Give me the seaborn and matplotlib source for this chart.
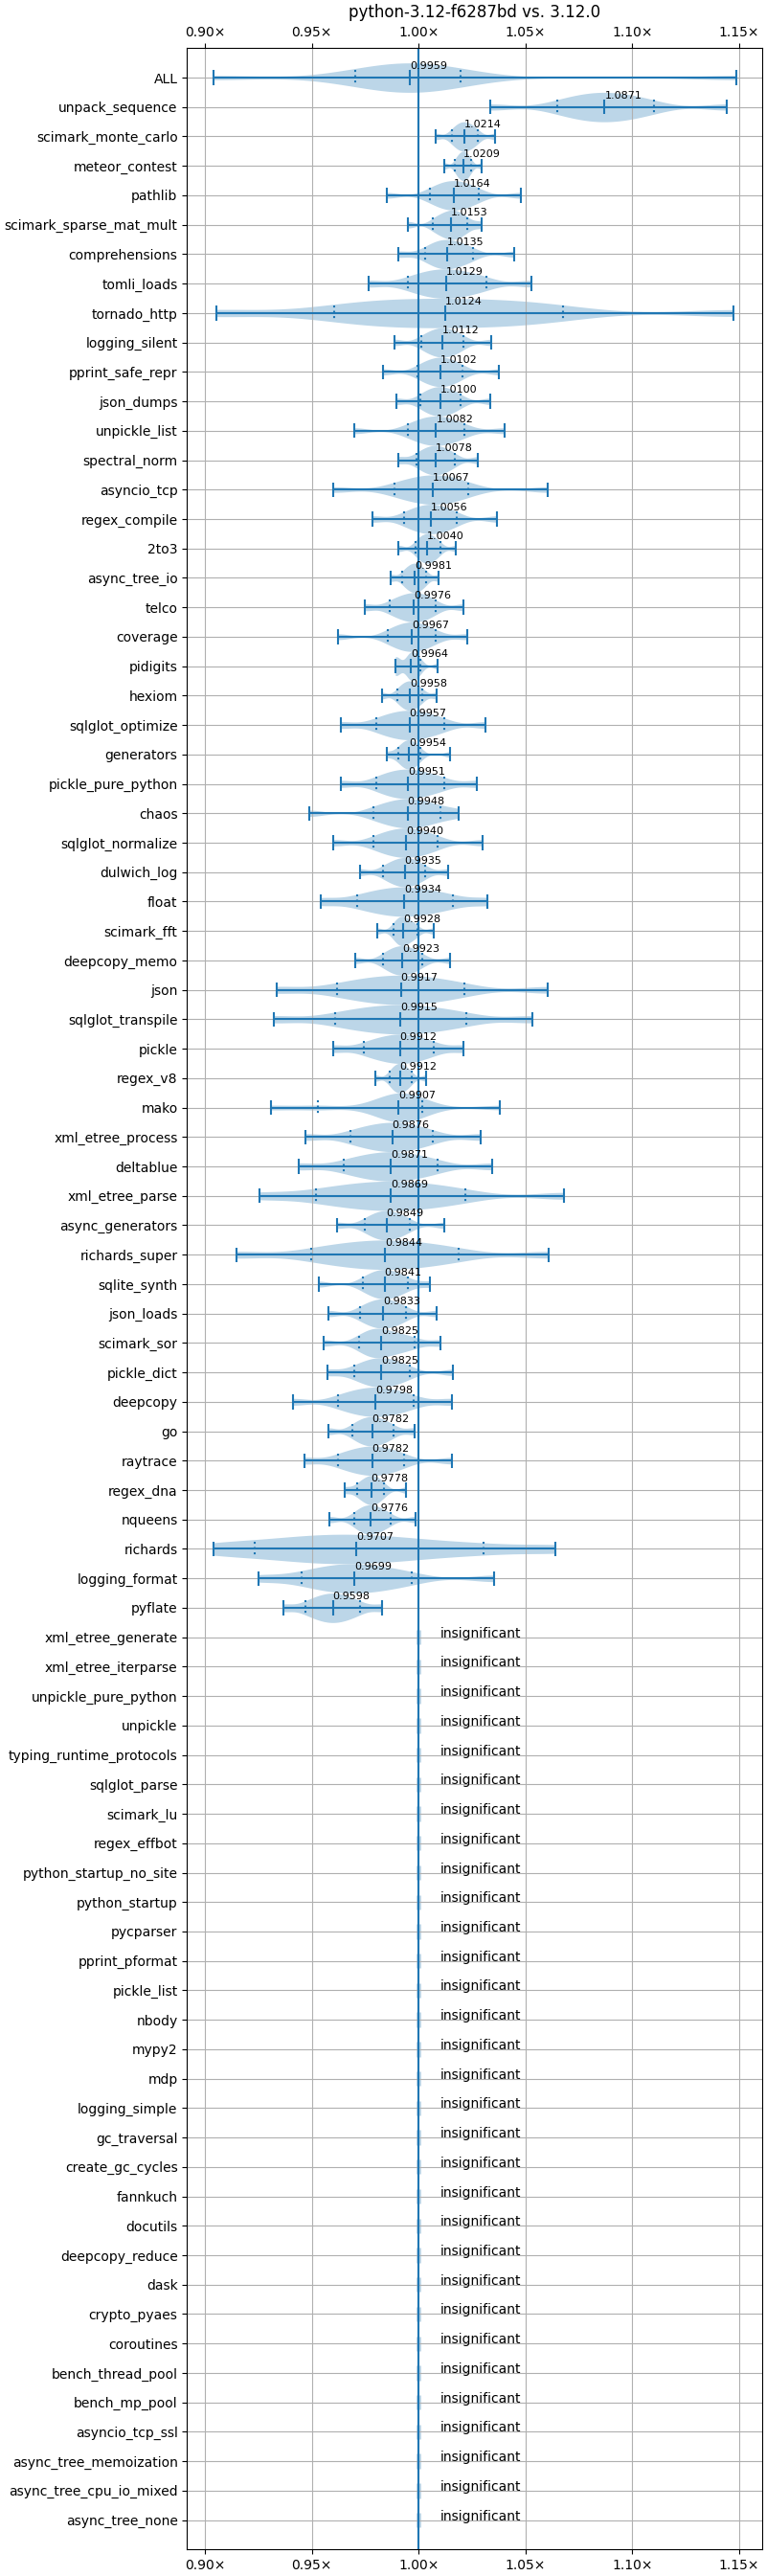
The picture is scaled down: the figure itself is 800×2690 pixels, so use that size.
import numpy as np
import pandas as pd
import matplotlib
matplotlib.use("Agg")
import matplotlib.pyplot as plt
from matplotlib.ticker import FuncFormatter, MultipleLocator
import seaborn as sns

title = "python-3.12-f6287bd vs. 3.12.0"

significant = [
    "ALL", "unpack_sequence", "scimark_monte_carlo", "meteor_contest", "pathlib",
    "scimark_sparse_mat_mult", "comprehensions", "tomli_loads", "tornado_http",
    "logging_silent", "pprint_safe_repr", "json_dumps", "unpickle_list",
    "spectral_norm", "asyncio_tcp", "regex_compile", "2to3", "async_tree_io",
    "telco", "coverage", "pidigits", "hexiom", "sqlglot_optimize", "generators",
    "pickle_pure_python", "chaos", "sqlglot_normalize", "dulwich_log", "float",
    "scimark_fft", "deepcopy_memo", "json", "sqlglot_transpile", "pickle",
    "regex_v8", "mako", "xml_etree_process", "deltablue", "xml_etree_parse",
    "async_generators", "richards_super", "sqlite_synth", "json_loads",
    "scimark_sor", "pickle_dict", "deepcopy", "go", "raytrace", "regex_dna",
    "nqueens", "richards", "logging_format", "pyflate",
]

insignificant = [
    "xml_etree_generate", "xml_etree_iterparse", "unpickle_pure_python", "unpickle",
    "typing_runtime_protocols", "sqlglot_parse", "scimark_lu", "regex_effbot",
    "python_startup_no_site", "python_startup", "pycparser", "pprint_pformat",
    "pickle_list", "nbody", "mypy2", "mdp", "logging_simple", "gc_traversal",
    "create_gc_cycles", "fannkuch", "docutils", "deepcopy_reduce", "dask",
    "crypto_pyaes", "coroutines", "bench_thread_pool", "bench_mp_pool",
    "asyncio_tcp_ssl", "async_tree_memoization", "async_tree_cpu_io_mixed",
    "async_tree_none",
]

# deciles of each significant benchmark's ratio distribution (min .. max)
q00 = [0.9038, 1.0337, 1.0078, 1.0121, 0.9849, 0.9951, 0.9906, 0.9764, 0.9053,
       0.9885, 0.9835, 0.9894, 0.9700, 0.9906, 0.9602, 0.9785, 0.9906, 0.9870,
       0.9750, 0.9624, 0.9891, 0.9827, 0.9635, 0.9849, 0.9635, 0.9487, 0.9602,
       0.9724, 0.9544, 0.9805, 0.9702, 0.9334, 0.9322, 0.9602, 0.9796, 0.9308,
       0.9469, 0.9438, 0.9253, 0.9617, 0.9146, 0.9532, 0.9577, 0.9554, 0.9572,
       0.9414, 0.9577, 0.9465, 0.9653, 0.9584, 0.9038, 0.9249, 0.9369]
q10 = [0.9705, 1.0650, 1.0154, 1.0171, 1.0051, 1.0067, 1.0031, 0.9951, 0.9603,
       1.0013, 0.9996, 1.0006, 0.9951, 0.9988, 0.9885, 0.9930, 0.9984, 0.9925,
       0.9863, 0.9854, 0.9893, 0.9899, 0.9800, 0.9903, 0.9800, 0.9787, 0.9790,
       0.9835, 0.9714, 0.9881, 0.9832, 0.9620, 0.9608, 0.9745, 0.9863, 0.9530,
       0.9679, 0.9651, 0.9518, 0.9747, 0.9499, 0.9738, 0.9724, 0.9720, 0.9697,
       0.9621, 0.9688, 0.9621, 0.9711, 0.9697, 0.9231, 0.9454, 0.9472]
q20 = [0.9791, 1.0725, 1.0174, 1.0184, 1.0089, 1.0096, 1.0066, 1.0012, 0.9750,
       1.0047, 1.0032, 1.0038, 0.9996, 1.0019, 0.9947, 0.9973, 1.0003, 0.9944,
       0.9901, 0.9892, 0.9897, 0.9919, 0.9853, 0.9920, 0.9851, 0.9842, 0.9841,
       0.9869, 0.9789, 0.9897, 0.9863, 0.9721, 0.9712, 0.9802, 0.9880, 0.9800,
       0.9746, 0.9726, 0.9637, 0.9782, 0.9616, 0.9773, 0.9761, 0.9756, 0.9741,
       0.9681, 0.9720, 0.9676, 0.9734, 0.9724, 0.9400, 0.9537, 0.9515]
q30 = [0.9855, 1.0780, 1.0189, 1.0193, 1.0118, 1.0118, 1.0092, 1.0056, 0.9880,
       1.0071, 1.0059, 1.0061, 1.0028, 1.0041, 0.9992, 1.0004, 1.0017, 0.9958,
       0.9930, 0.9921, 0.9945, 0.9934, 0.9893, 0.9933, 0.9889, 0.9882, 0.9879,
       0.9894, 0.9844, 0.9909, 0.9886, 0.9795, 0.9789, 0.9844, 0.9892, 0.9860,
       0.9795, 0.9781, 0.9725, 0.9807, 0.9703, 0.9799, 0.9788, 0.9782, 0.9773,
       0.9725, 0.9743, 0.9716, 0.9751, 0.9744, 0.9500, 0.9599, 0.9546]
q40 = [0.9908, 1.0827, 1.0202, 1.0201, 1.0141, 1.0136, 1.0114, 1.0093, 1.0000,
       1.0092, 1.0081, 1.0081, 1.0056, 1.0060, 1.0031, 1.0031, 1.0029, 0.9970,
       0.9953, 0.9944, 0.9958, 0.9946, 0.9926, 0.9944, 0.9921, 0.9916, 0.9910,
       0.9915, 0.9890, 0.9919, 0.9905, 0.9858, 0.9854, 0.9879, 0.9902, 0.9890,
       0.9837, 0.9827, 0.9799, 0.9829, 0.9775, 0.9820, 0.9811, 0.9804, 0.9799,
       0.9763, 0.9763, 0.9750, 0.9765, 0.9760, 0.9610, 0.9650, 0.9573]
q50 = [0.9959, 1.0871, 1.0214, 1.0209, 1.0164, 1.0153, 1.0135, 1.0129, 1.0124,
       1.0112, 1.0102, 1.0100, 1.0082, 1.0078, 1.0067, 1.0056, 1.0040, 0.9981,
       0.9976, 0.9967, 0.9964, 0.9958, 0.9957, 0.9954, 0.9951, 0.9948, 0.9940,
       0.9935, 0.9934, 0.9928, 0.9923, 0.9917, 0.9915, 0.9912, 0.9912, 0.9907,
       0.9876, 0.9871, 0.9869, 0.9849, 0.9844, 0.9841, 0.9833, 0.9825, 0.9825,
       0.9798, 0.9782, 0.9782, 0.9778, 0.9776, 0.9707, 0.9699, 0.9598]
q60 = [1.0007, 1.0917, 1.0227, 1.0216, 1.0188, 1.0168, 1.0159, 1.0167, 1.0250,
       1.0132, 1.0123, 1.0120, 1.0109, 1.0097, 1.0100, 1.0081, 1.0052, 0.9992,
       0.9997, 0.9990, 0.9972, 0.9970, 0.9990, 0.9965, 0.9984, 0.9978, 0.9970,
       0.9954, 0.9980, 0.9941, 0.9942, 0.9977, 0.9977, 0.9944, 0.9923, 0.9925,
       0.9914, 0.9915, 0.9939, 0.9871, 0.9913, 0.9862, 0.9855, 0.9856, 0.9851,
       0.9833, 0.9802, 0.9812, 0.9790, 0.9794, 0.9810, 0.9752, 0.9623]
q70 = [1.0057, 1.0965, 1.0241, 1.0224, 1.0213, 1.0184, 1.0184, 1.0206, 1.0380,
       1.0152, 1.0145, 1.0140, 1.0137, 1.0116, 1.0135, 1.0107, 1.0065, 1.0004,
       1.0019, 1.0013, 0.9983, 0.9983, 1.0024, 0.9976, 1.0019, 1.0010, 1.0002,
       0.9974, 1.0027, 0.9955, 0.9962, 1.0040, 1.0042, 0.9978, 0.9934, 0.9945,
       0.9954, 0.9961, 1.0013, 0.9893, 0.9985, 0.9885, 0.9878, 0.9888, 0.9879,
       0.9871, 0.9823, 0.9844, 0.9803, 0.9813, 0.9930, 0.9808, 0.9650]
q80 = [1.0116, 1.1022, 1.0257, 1.0233, 1.0243, 1.0203, 1.0214, 1.0254, 1.0510,
       1.0177, 1.0171, 1.0165, 1.0170, 1.0139, 1.0177, 1.0138, 1.0080, 1.0018,
       1.0045, 1.0042, 0.9995, 0.9998, 1.0065, 0.9989, 1.0061, 1.0048, 1.0040,
       0.9998, 1.0084, 0.9971, 0.9986, 1.0114, 1.0120, 1.0018, 0.9948, 0.9975,
       1.0002, 1.0016, 1.0100, 0.9920, 1.0072, 0.9912, 0.9906, 0.9927, 0.9912,
       0.9915, 0.9847, 0.9882, 0.9819, 0.9836, 1.0080, 0.9875, 0.9681]
q90 = [1.0197, 1.1100, 1.0279, 1.0246, 1.0283, 1.0228, 1.0255, 1.0318, 1.0675,
       1.0210, 1.0206, 1.0198, 1.0216, 1.0171, 1.0234, 1.0180, 1.0100, 1.0037,
       1.0080, 1.0080, 1.0010, 1.0019, 1.0121, 1.0007, 1.0118, 1.0100, 1.0091,
       1.0031, 1.0162, 0.9993, 1.0018, 1.0216, 1.0225, 1.0072, 0.9966, 1.0018,
       1.0067, 1.0091, 1.0219, 0.9957, 1.0189, 0.9948, 0.9943, 0.9979, 0.9957,
       0.9975, 0.9881, 0.9934, 0.9840, 0.9867, 1.0306, 0.9966, 0.9724]
q100 = [1.1486, 1.1441, 1.0359, 1.0295, 1.0477, 1.0295, 1.0449, 1.0529, 1.1475,
        1.0341, 1.0376, 1.0335, 1.0404, 1.0277, 1.0605, 1.0367, 1.0176, 1.0095,
        1.0210, 1.0228, 1.0091, 1.0085, 1.0315, 1.0145, 1.0274, 1.0188, 1.0301,
        1.0140, 1.0322, 1.0069, 1.0149, 1.0605, 1.0534, 1.0210, 1.0036, 1.0382,
        1.0291, 1.0346, 1.0681, 1.0121, 1.0608, 1.0055, 1.0086, 1.0104, 1.0162,
        1.0154, 0.9979, 1.0154, 0.9943, 0.9984, 1.0641, 1.0355, 0.9830]

insignificant_ratio = 1.0
baseline = 1.0

deciles = [q00, q10, q20, q30, q40, q50, q60, q70, q80, q90, q100]
records = []
for j, name in enumerate(significant):
    for q in deciles:
        records.append((name, q[j]))
df = pd.DataFrame(records, columns=["benchmark", "ratio"])
order = significant + insignificant

blue = "#1f77b4"
body = "#bcd6e8"

fig, ax = plt.subplots(figsize=(8, 26.9), dpi=100)
fig.subplots_adjust(left=0.2441, right=0.995, top=0.9813, bottom=0.0103)

ax.axvline(baseline, color=blue, lw=1.5, zorder=2)

sns.violinplot(data=df, x="ratio", y="benchmark", order=order, orient="h",
               cut=0, inner=None, density_norm="width", width=1.0,
               bw_method=0.35, gridsize=200, color=body, saturation=1,
               linewidth=0, ax=ax)

pos = np.arange(len(significant))
q00a, q10a, q50a, q90a, q100a = map(np.asarray, (q00, q10, q50, q90, q100))
ax.hlines(pos, q00a, q100a, color=blue, lw=1.5, zorder=3)
for arr, ls in [(q00a, "-"), (q100a, "-"), (q50a, "-"), (q10a, ":"), (q90a, ":")]:
    ax.vlines(arr, pos - 0.25, pos + 0.25, color=blue, lw=1.5, linestyles=ls, zorder=3)

for j, m in enumerate(q50):
    ax.text(m, j - 0.3, f"{m:.4f}", fontsize=8, ha="left", va="baseline")

ipos = np.arange(len(significant), len(order))
ax.vlines(np.full(len(ipos), insignificant_ratio), ipos - 0.25, ipos + 0.25,
          color=body, lw=3.5, zorder=1)
for p in ipos:
    ax.text(insignificant_ratio + 0.01, p, "insignificant", fontsize=10,
            ha="left", va="baseline")

lo, hi = min(q00), max(q100)
pad = 0.05 * (hi - lo)
ax.set_xlim(lo - pad, hi + pad)
ax.set_ylim(len(order), -1)
ax.set_yticks(np.arange(len(order)))
ax.set_yticklabels(order)
ax.xaxis.set_major_locator(MultipleLocator(0.05))
ax.xaxis.set_major_formatter(FuncFormatter(lambda x, p: f"{x:.2f}\u00d7"))
ax.tick_params(axis="x", top=True, bottom=True, labeltop=True, labelbottom=True)
ax.grid(True, color="#b0b0b0", lw=0.8)
ax.set_axisbelow("line")
ax.set_xlabel("")
ax.set_ylabel("")
ax.set_title(title, fontsize=12)
for s in ax.spines.values():
    s.set_visible(True)
    s.set_color("black")

fig.savefig("out.png", dpi=100)
